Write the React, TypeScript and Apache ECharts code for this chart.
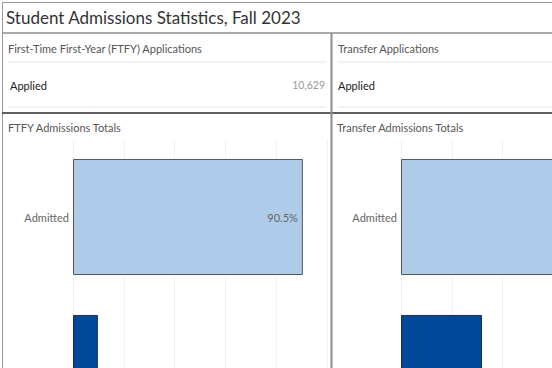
import React, { useEffect, useRef } from 'react';
import * as echarts from 'echarts';

const dashboardTitle = 'Student Admissions Statistics, Fall 2023';
const panelTitles = ['First-Time First-Year (FTFY) Applications', 'Transfer Applications'];
const appliedLabel = 'Applied';
const ftfyApplied = 10629;
const chartTitles = ['FTFY Admissions Totals', 'Transfer Admissions Totals'];
const categories = ['Admitted', 'Enrolled'];
const ftfyPct = [90.5, 9.8];
const transferPct = [79.6, 31.9];
const barColors = ['#aecbea', '#00489a'];
// only the first row lies inside the visible window of the dashboard
const visibleRows = 1;

const FONT = 'Lato, "Open Sans", sans-serif';

export default function App() {
  const ref = useRef<HTMLDivElement>(null);
  useEffect(() => {
    if (!ref.current) return;
    document.body.style.margin = '0';
    document.body.style.overflow = 'hidden';
    const chart = echarts.init(ref.current, null, { renderer: 'svg' });

    const line = (x1: number, y1: number, x2: number, y2: number, stroke: string, lineWidth: number, z = 10) => ({
      type: 'line',
      shape: { x1, y1, x2, y2 },
      style: { stroke, lineWidth },
      z,
      silent: true,
    });
    const text = (x: number, y: number, t: string, fontSize: number, fill: string, align = 'left', fontWeight: any = 'normal') => ({
      type: 'text',
      x,
      y,
      style: { text: t, fontSize, fill, fontFamily: FONT, align, verticalAlign: 'middle', fontWeight },
      z: 10,
      silent: true,
    });

    const makeSeries = (idx: number, values: number[], labelsVisible: boolean) => ({
      type: 'bar',
      xAxisIndex: idx,
      yAxisIndex: idx,
      barCategoryGap: '25.6%',
      data: values.map((v, i) => ({
        value: v,
        itemStyle: { color: barColors[i], borderColor: i === 0 ? '#555' : '#1d2f4f', borderWidth: 1 },
        label: { show: labelsVisible && i < visibleRows },
      })),
      label: {
        show: labelsVisible,
        position: 'insideRight',
        distance: 5,
        formatter: (p: any) => `${p.value}%`,
        color: '#666',
        fontSize: 11,
        fontFamily: FONT,
      },
    });

    const xAxis = (idx: number) => ({
      type: 'value',
      gridIndex: idx,
      min: 0,
      max: 100,
      interval: 20,
      axisLabel: { show: false },
      axisLine: { show: false },
      axisTick: { show: false },
      splitLine: { show: true, lineStyle: { color: '#f2f2f2', width: 1 } },
    });
    const yAxis = (idx: number) => ({
      type: 'category',
      gridIndex: idx,
      inverse: true,
      data: categories,
      axisLabel: {
        color: '#666',
        fontSize: 11,
        margin: 4,
        fontFamily: FONT,
        formatter: (v: string, i: number) => (i < visibleRows ? v : ''),
      },
      axisLine: { show: false },
      axisTick: { show: false },
    });

    chart.setOption({
      animation: false,
      backgroundColor: '#ffffff',
      grid: [
        { left: 73, top: 139, width: 254, height: 312, containLabel: false },
        { left: 401, top: 139, width: 254, height: 312, containLabel: false },
      ],
      xAxis: [xAxis(0), xAxis(1)],
      yAxis: [yAxis(0), yAxis(1)],
      series: [makeSeries(0, ftfyPct, true), makeSeries(1, transferPct, false)],
      graphic: [
        line(2, 2.5, 720, 2.5, '#9a9a9a', 1),
        line(2.5, 2, 2.5, 520, '#9a9a9a', 1),
        line(2, 33, 720, 33, '#8f8f8f', 1.5),
        line(8, 62, 326, 62, '#e8e8e8', 1),
        line(338, 62, 720, 62, '#e8e8e8', 1),
        line(8, 107, 326, 107, '#e8e8e8', 1),
        line(338, 107, 720, 107, '#e8e8e8', 1),
        line(2, 113, 720, 113, '#2b2b2b', 1.5),
        line(331.5, 33, 331.5, 520, '#8c8c8c', 2, 11),
        text(6, 17, dashboardTitle, 17, '#333'),
        text(8, 48, panelTitles[0], 11, '#555'),
        text(338, 48, panelTitles[1], 11, '#555'),
        text(10, 85, appliedLabel, 11, '#1a1a1a'),
        text(325, 85, ftfyApplied.toLocaleString('en-US'), 10.5, '#999', 'right'),
        text(338, 85, appliedLabel, 11, '#1a1a1a'),
        text(8, 127, chartTitles[0], 11, '#555'),
        text(337, 127, chartTitles[1], 11, '#555'),
      ],
    });
    return () => chart.dispose();
  }, []);
  return (
    <div style={{ position: 'absolute', left: 0, top: 0, width: 552, height: 368, overflow: 'hidden' }}>
      <div ref={ref} style={{ width: 720, height: 520 }} />
    </div>
  );
}
